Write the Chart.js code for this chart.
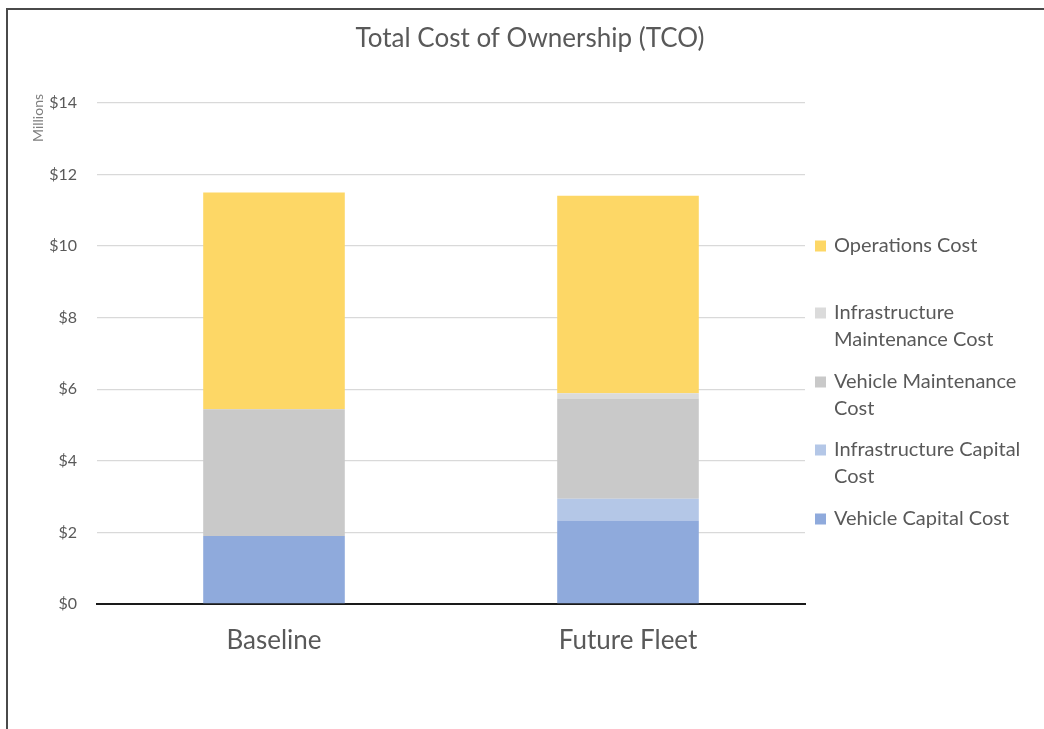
<!DOCTYPE html>
<html>
<head>
<meta charset="utf-8">
<script src="https://cdn.jsdelivr.net/npm/chart.js@4/dist/chart.umd.min.js"></script>
<style>
  html, body { margin: 0; padding: 0; background: #fff; }
  #wrap { position: relative; width: 1044px; height: 729px; overflow: hidden; }
  #frame { position: absolute; left: 6px; top: 8px; width: 1200px; height: 900px;
           border-left: 2px solid #4a4a4a; border-top: 2px solid #4a4a4a; }
  canvas { position: absolute; left: 0; top: 0; }
</style>
</head>
<body>
<div id="wrap">
  <div id="frame"></div>
  <canvas id="c" width="1044" height="729"></canvas>
</div>
<script>
const categories = ["Baseline", "Future Fleet"];
const vehicleCapital = [1.90, 2.33];
const infraCapital = [0, 0.61];
const vehicleMaint = [3.54, 2.80];
const infraMaint = [0, 0.15];
const operations = [6.06, 5.52];
const yTicks = [0, 2, 4, 6, 8, 10, 12, 14];
const chartTitle = "Total Cost of Ownership (TCO)";
const yAxisTitle = "Millions";

const FONT = "Lato, 'Open Sans', sans-serif";
const TXT = "#595959";

const series = [
  { label: "Vehicle Capital Cost", data: vehicleCapital, color: "#8FAADC", lines: ["Vehicle Capital Cost"] },
  { label: "Infrastructure Capital Cost", data: infraCapital, color: "#B4C7E7", lines: ["Infrastructure Capital", "Cost"] },
  { label: "Vehicle Maintenance Cost", data: vehicleMaint, color: "#C9C9C9", lines: ["Vehicle Maintenance", "Cost"] },
  { label: "Infrastructure Maintenance Cost", data: infraMaint, color: "#DBDBDB", lines: ["Infrastructure", "Maintenance Cost"] },
  { label: "Operations Cost", data: operations, color: "#FDD766", lines: ["Operations Cost"] }
];

const decor = {
  id: "decor",
  afterDraw(chart) {
    const ctx = chart.ctx;
    ctx.save();
    // title
    ctx.fillStyle = TXT;
    ctx.font = "26px " + FONT;
    ctx.textAlign = "center";
    ctx.textBaseline = "middle";
    ctx.fillText(chartTitle, 530, 39);
    // y axis unit
    ctx.save();
    ctx.translate(38, 118);
    ctx.rotate(-Math.PI / 2);
    ctx.font = "14px " + FONT;
    ctx.fillStyle = "#7f7f7f";
    ctx.fillText(yAxisTitle, 0, 0);
    ctx.restore();
    // legend (top to bottom: reverse of stack order)
    const legendTops = [519, 450, 382, 313, 246];
    ctx.font = "20px " + FONT;
    ctx.textAlign = "left";
    for (let i = 0; i < series.length; i++) {
      const s = series[i];
      const y0 = legendTops[i];
      ctx.fillStyle = s.color;
      ctx.fillRect(815, y0 - 5.5, 11, 11);
      ctx.fillStyle = TXT;
      s.lines.forEach((ln, k) => ctx.fillText(ln, 834, y0 + k * 27));
    }
    ctx.restore();
  }
};

new Chart(document.getElementById("c"), {
  type: "bar",
  data: {
    labels: categories,
    datasets: series.map(s => ({
      label: s.label,
      data: s.data,
      backgroundColor: s.color,
      borderWidth: 0,
      barPercentage: 0.4,
      categoryPercentage: 1.0
    }))
  },
  options: {
    responsive: false,
    animation: false,
    layout: { padding: { left: 0, right: 239, top: 103, bottom: 0 } },
    plugins: { legend: { display: false }, title: { display: false }, tooltip: { enabled: false } },
    scales: {
      x: {
        stacked: true,
        grid: { display: false, drawTicks: false },
        border: { display: true, color: "#1a1a1a", width: 2 },
        ticks: { color: TXT, font: { family: FONT, size: 26 }, padding: 21 },
        afterFit(scale) { scale.height = 125; }
      },
      y: {
        stacked: true,
        min: 0, max: 14,
        afterBuildTicks(scale) { scale.ticks = yTicks.map(v => ({ value: v })); },
        grid: { color: "#D9D9D9", lineWidth: 1.3, drawTicks: false },
        border: { display: false },
        ticks: { color: TXT, font: { family: FONT, size: 16 }, padding: 20,
                 callback: v => "$" + v },
        afterFit(scale) { scale.width = 97; }
      }
    }
  },
  plugins: [decor]
});
</script>
</body>
</html>
